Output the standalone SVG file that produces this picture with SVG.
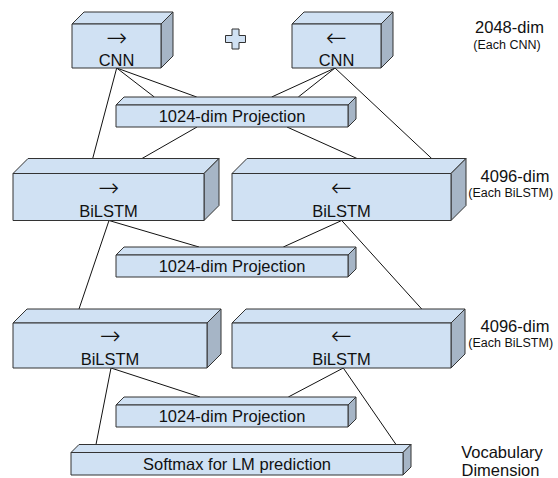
<svg xmlns="http://www.w3.org/2000/svg" width="558" height="478" viewBox="0 0 558 478">
<style>
.face{fill:#d0e1f3;stroke:#333;stroke-width:1;stroke-linejoin:round}
.side{fill:#a6b5c6;stroke:#333;stroke-width:1;stroke-linejoin:round}
.lbl{font-family:"Liberation Sans",Arial,sans-serif;font-size:16.5px;fill:#111;text-anchor:middle}
.arr{font-family:"DejaVu Sans",sans-serif;font-weight:200;font-size:25px;fill:#111;text-anchor:middle}
.small{font-family:"Liberation Sans",Arial,sans-serif;font-size:12.5px;fill:#111;text-anchor:middle}
.conn line{stroke:#111;stroke-width:1}
</style>
<rect width="558" height="478" fill="#fff"/>
<g class="conn" id="connectors">
<line x1="116.7" y1="68" x2="92.7" y2="158.5"/>
<line x1="116.7" y1="68" x2="154.3" y2="97"/>
<line x1="116.7" y1="68" x2="196.7" y2="97"/>
<line x1="335" y1="68" x2="271.7" y2="97"/>
<line x1="335" y1="68" x2="298.3" y2="97"/>
<line x1="335" y1="68" x2="431.7" y2="158.5"/>
<line x1="197" y1="127" x2="142" y2="158.5"/>
<line x1="287" y1="127" x2="357" y2="158.5"/>
<line x1="109" y1="220.5" x2="199" y2="247"/>
<line x1="109" y1="220.5" x2="79" y2="309"/>
<line x1="341.7" y1="220.5" x2="283.3" y2="247"/>
<line x1="341.7" y1="220.5" x2="421.7" y2="309"/>
<line x1="111" y1="368" x2="200" y2="397"/>
<line x1="111" y1="368" x2="96" y2="444.5"/>
<line x1="343.3" y1="368" x2="288.3" y2="397"/>
<line x1="343.3" y1="368" x2="396" y2="444.5"/>
</g>
<g id="cnn-fwd">
<polygon class="face" points="72,24 84,12 173,12 161,24"/>
<polygon class="side" points="161,24 173,12 173,56 161,68"/>
<rect class="face" x="72" y="24" width="89" height="44"/>
<text class="arr" x="116.5" y="45.5">→</text>
<text class="lbl" x="116.5" y="65.5">CNN</text>
</g>
<g id="plus">
<polygon class="face" points="232,29 239,29 239,35.5 245.5,35.5 245.5,42.5 239,42.5 239,49 232,49 232,42.5 225.5,42.5 225.5,35.5 232,35.5"/>
</g>
<g id="cnn-bwd">
<polygon class="face" points="292,24 304,12 393,12 381,24"/>
<polygon class="side" points="381,24 393,12 393,56 381,68"/>
<rect class="face" x="292" y="24" width="89" height="44"/>
<text class="arr" x="336.5" y="45.5">←</text>
<text class="lbl" x="336.5" y="65.5">CNN</text>
</g>
<g id="label-cnn">
<text class="lbl" x="509.5" y="33">2048-dim</text>
<text class="small" x="507" y="49">(Each CNN)</text>
</g>
<g id="proj1">
<polygon class="face" points="116,105 124,97 356,97 348,105"/>
<polygon class="side" points="348,105 356,97 356,119 348,127"/>
<rect class="face" x="116" y="105" width="232" height="22"/>
<text class="lbl" x="232" y="121.8">1024-dim Projection</text>
</g>
<g id="bilstm1-fwd">
<polygon class="face" points="13,173.5 28,158.5 219,158.5 204,173.5"/>
<polygon class="side" points="204,173.5 219,158.5 219,205.5 204,220.5"/>
<rect class="face" x="13" y="173.5" width="191" height="47"/>
<text class="arr" x="108.5" y="195.5">→</text>
<text class="lbl" x="108.5" y="216.5">BiLSTM</text>
</g>
<g id="bilstm1-bwd">
<polygon class="face" points="232,173.5 247,158.5 466,158.5 451,173.5"/>
<polygon class="side" points="451,173.5 466,158.5 466,205.5 451,220.5"/>
<rect class="face" x="232" y="173.5" width="219" height="47"/>
<text class="arr" x="341.5" y="195.5">←</text>
<text class="lbl" x="341.5" y="216.5">BiLSTM</text>
</g>
<g id="label-bilstm1">
<text class="lbl" x="515" y="181.7">4096-dim</text>
<text class="small" x="510.7" y="197.3">(Each BiLSTM)</text>
</g>
<g id="proj2">
<polygon class="face" points="116,255 124,247 356,247 348,255"/>
<polygon class="side" points="348,255 356,247 356,269 348,277"/>
<rect class="face" x="116" y="255" width="232" height="22"/>
<text class="lbl" x="232" y="271.8">1024-dim Projection</text>
</g>
<g id="bilstm2-fwd">
<polygon class="face" points="13,323 27,309 221,309 207,323"/>
<polygon class="side" points="207,323 221,309 221,354 207,368"/>
<rect class="face" x="13" y="323" width="194" height="45"/>
<text class="arr" x="110" y="343.5">→</text>
<text class="lbl" x="110" y="365">BiLSTM</text>
</g>
<g id="bilstm2-bwd">
<polygon class="face" points="232,323 246,309 465,309 451,323"/>
<polygon class="side" points="451,323 465,309 465,354 451,368"/>
<rect class="face" x="232" y="323" width="219" height="45"/>
<text class="arr" x="341.5" y="343.5">←</text>
<text class="lbl" x="341.5" y="365">BiLSTM</text>
</g>
<g id="label-bilstm2">
<text class="lbl" x="515" y="331.7">4096-dim</text>
<text class="small" x="510.7" y="347.3">(Each BiLSTM)</text>
</g>
<g id="proj3">
<polygon class="face" points="116,405 124,397 356,397 348,405"/>
<polygon class="side" points="348,405 356,397 356,419 348,427"/>
<rect class="face" x="116" y="405" width="232" height="22"/>
<text class="lbl" x="232" y="421.8">1024-dim Projection</text>
</g>
<g id="softmax">
<polygon class="face" points="71,452.5 79,444.5 411,444.5 403,452.5"/>
<polygon class="side" points="403,452.5 411,444.5 411,467 403,475"/>
<rect class="face" x="71" y="452.5" width="332" height="22.5"/>
<text class="lbl" x="237" y="469.5">Softmax for LM prediction</text>
</g>
<g id="label-vocab">
<text class="lbl" x="502" y="458">Vocabulary</text>
<text class="lbl" x="500.5" y="476">Dimension</text>
</g>
</svg>
